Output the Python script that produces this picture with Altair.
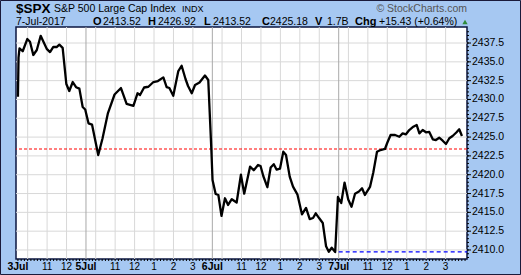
import altair as alt
import pandas as pd

# ---- data (trading-hour index since 3 Jul 09:30, price) ----
hours = [0.0, 0.03, 0.08, 0.245, 0.48, 0.62, 0.79, 0.97, 1.17, 1.30, 1.48, 1.65, 1.82, 1.99, 2.13, 2.30,
         2.49, 2.64, 2.82, 2.99, 3.16, 3.33, 3.46, 3.63, 3.81, 4.13, 4.35, 4.63, 4.97, 5.30, 5.59, 5.94,
         6.15, 6.28, 6.49, 6.71, 6.97, 7.20, 7.48, 7.65, 7.79, 7.99, 8.25, 8.42, 8.62, 8.75, 8.94, 9.11,
         9.34, 9.62, 9.79, 9.95, 10.01, 10.17, 10.31, 10.47, 10.65, 10.81, 11.00, 11.25, 11.47, 11.64,
         11.94, 12.13, 12.35, 12.48, 12.62, 12.83, 13.00, 13.16, 13.31, 13.48, 13.65, 13.79, 13.98, 14.15,
         14.38, 14.61, 14.82, 15.01, 15.18, 15.32, 15.50, 15.68, 15.85, 15.99, 16.14, 16.32, 16.46, 16.63,
         16.80, 16.99, 17.16, 17.34, 17.54, 17.70, 17.85, 18.11, 18.28, 18.47, 18.65, 18.88, 19.00, 19.17,
         19.40, 19.62, 19.79, 19.96, 20.13, 20.34, 20.51, 20.65, 20.82, 20.99, 21.16, 21.34, 21.50, 21.67,
         21.85, 22.02, 22.19, 22.36, 22.55, 22.70, 22.84]
prices = [2430.37, 2435.57, 2436.80, 2436.41, 2438.03, 2437.67, 2435.91, 2436.57, 2438.46, 2437.73,
          2436.73, 2436.30, 2437.00, 2436.97, 2437.29, 2436.86, 2432.05, 2431.12, 2432.32, 2431.63,
          2431.44, 2429.00, 2428.67, 2426.83, 2426.66, 2422.62, 2424.81, 2428.20, 2430.66, 2431.52,
          2429.40, 2429.16, 2430.82, 2430.59, 2431.59, 2431.69, 2432.32, 2432.45, 2432.94, 2431.65,
          2431.52, 2430.49, 2433.78, 2434.48, 2432.72, 2431.79, 2430.82, 2431.92, 2432.25, 2433.18,
          2432.58, 2423.28, 2419.30, 2417.44, 2417.31, 2414.52, 2416.87, 2415.98, 2416.75, 2416.31,
          2420.00, 2417.48, 2421.07, 2420.59, 2421.29, 2421.16, 2419.83, 2418.34, 2420.96, 2421.40,
          2420.67, 2420.80, 2423.06, 2422.62, 2419.74, 2418.41, 2417.35, 2414.74, 2415.58, 2414.10,
          2414.25, 2414.87, 2414.21, 2413.59, 2410.49, 2409.77, 2410.30, 2409.73, 2417.04, 2416.24,
          2418.95, 2416.71, 2415.75, 2417.48, 2417.77, 2418.20, 2417.31, 2418.37, 2420.30, 2423.06,
          2423.28, 2423.42, 2424.25, 2425.28, 2425.28, 2425.05, 2425.50, 2425.37, 2425.94, 2426.38,
          2426.61, 2425.50, 2425.94, 2425.64, 2425.68, 2424.71, 2424.61, 2424.92, 2424.52, 2424.08,
          2424.84, 2425.15, 2425.61, 2426.04, 2425.15]

ref_level = 2423.42      # red dashed level
prev_close = 2409.75     # blue dashed level (previous close)
prev_close_start = 16.5  # 7 Jul open

y_ticks = [2410.0, 2412.5, 2415.0, 2417.5, 2420.0, 2422.5, 2425.0, 2427.5, 2430.0, 2432.5, 2435.0, 2437.5]
hour_grid = [0.5, 1.5, 2.5, 4.0, 5.0, 6.0, 7.0, 8.0, 9.0, 10.5, 11.5, 12.5, 13.5, 14.5, 15.5,
             17.0, 18.0, 19.0, 20.0, 21.0, 22.0]
day_starts = [3.5, 10.0, 16.5]
day_label_pos = [0.0, 3.5, 10.0, 16.5]
day_label_text = ["3Jul", "5Jul", "6Jul", "7Jul"]
hour_label_pos = [1.5, 2.5, 5.0, 6.0, 7.0, 8.0, 9.0, 11.5, 12.5, 13.5, 14.5, 15.5, 18.0, 19.0, 20.0, 21.0, 22.0]
hour_label_text = ["11", "12", "11", "12", "1", "2", "3", "11", "12", "1", "2", "3", "11", "12", "1", "2", "3"]

# header texts
hdr_bold = ["$SPX", "O", "H", "L", "C", "V", "Chg"]
hdr_regular = ["S&P 500 Large Cap Index", "7-Jul-2017", "2413.52", "2426.92", "2413.52", "2425.18",
               "1.7B", "+15.43 (+0.64%)"]
hdr_small = ["INDX"]
credit = ["\u00a9 StockCharts.com"]

FONT = "Liberation Sans"
W, H = 451, 232

# layout (pixel positions relative to plot origin)
bold_x = [0, 77, 132, 188, 246, 299, 339]
bold_y = [-14.5, -2, -2, -2, -2, -2, -2]
bold_size = [13.5, 11, 11, 11, 11, 11, 11]
reg_x = [38, 0, 87, 142, 197, 254, 311, 363]
reg_y = [-15, -2, -2, -2, -2, -2, -2, -2]

# minor tick marks (axis decoration): every 0.5 points on the right, every 10 minutes at the bottom
minor_y = [2409.0 + 0.5 * i for i in range(61)]
minor_x = [i / 6.0 for i in range(139)]

xs = alt.Scale(domain=[-0.1, 23.1], nice=False, zero=False)
ys = alt.Scale(domain=[2408.8, 2439.63], nice=False, zero=False)


def X(f):
    return alt.X(f, scale=xs, axis=None)


def Y(f):
    return alt.Y(f, scale=ys, axis=None)


def PX(f):
    return alt.X(f, scale=None, axis=None)


def PY(f):
    return alt.Y(f, scale=None, axis=None)


GRID = "#d8d8d8"

price_df = pd.DataFrame({"h": hours, "p": prices})

hgrid = alt.Chart(pd.DataFrame({"h": hour_grid})).mark_rule(color=GRID, strokeWidth=1).encode(x=X("h:Q"))
dgrid = alt.Chart(pd.DataFrame({"h": day_starts})).mark_rule(color="#a9a9a9", strokeWidth=1).encode(x=X("h:Q"))
ygrid = alt.Chart(pd.DataFrame({"v": y_ticks})).mark_rule(color=GRID, strokeWidth=1).encode(y=Y("v:Q"))

red = alt.Chart(pd.DataFrame({"v": [ref_level]})).mark_rule(
    color="#ff0000", strokeDash=[3, 2], strokeWidth=1.2).encode(y=Y("v:Q"))
blue = alt.Chart(pd.DataFrame({"v": [prev_close], "a": [prev_close_start], "b": [23.1]})).mark_rule(
    color="#0000ff", strokeDash=[4, 3], strokeWidth=1.2).encode(
    x=X("a:Q"), x2=alt.X2("b"), y=Y("v:Q"))

line = alt.Chart(price_df).mark_line(color="black", strokeWidth=2.3, strokeJoin="round").encode(
    x=X("h:Q"), y=Y("p:Q"))

# right axis: ticks + labels
ytick = alt.Chart(pd.DataFrame({"v": y_ticks, "a": [W] * len(y_ticks), "b": [W + 4] * len(y_ticks)})).mark_rule(
    color="#000000", strokeWidth=1).encode(x=PX("a:Q"), x2=alt.X2("b"), y=Y("v:Q"))
ylab = alt.Chart(pd.DataFrame({"v": y_ticks, "a": [W + 5] * len(y_ticks)})).mark_text(
    font=FONT, fontSize=10.5, align="left", baseline="middle", color="#000000").encode(
    x=PX("a:Q"), y=Y("v:Q"), text=alt.Text("v:Q", format=".1f"))
yminor = alt.Chart(pd.DataFrame({"v": minor_y, "a": [W] * len(minor_y), "b": [W + 2] * len(minor_y)})).mark_rule(
    color="#000000", strokeWidth=1).encode(x=PX("a:Q"), x2=alt.X2("b"), y=Y("v:Q"))
xminor = alt.Chart(pd.DataFrame({"h": minor_x, "a": [H] * len(minor_x), "b": [H + 2] * len(minor_x)})).mark_rule(
    color="#000000", strokeWidth=1).encode(x=X("h:Q"), y=PY("a:Q"), y2=alt.Y2("b"))

day_lbl = alt.Chart(pd.DataFrame({"h": day_label_pos, "t": day_label_text, "yy": [H + 7.5] * 4})).mark_text(
    font=FONT, fontSize=10.5, fontWeight="bold", baseline="middle", align="center", color="#000000").encode(
    x=X("h:Q"), y=PY("yy:Q"), text="t:N")
hour_lbl = alt.Chart(pd.DataFrame({"h": hour_label_pos, "t": hour_label_text,
                                   "yy": [H + 7.5] * len(hour_label_pos)})).mark_text(
    font=FONT, fontSize=10, baseline="middle", align="center", color="#000000").encode(
    x=X("h:Q"), y=PY("yy:Q"), text="t:N")

bold_df = pd.DataFrame({"t": hdr_bold, "px": bold_x, "py": bold_y, "fs": bold_size})
hb = alt.Chart(bold_df).mark_text(font=FONT, fontWeight="bold", align="left", baseline="alphabetic",
                                  color="#000000").encode(
    x=PX("px:Q"), y=PY("py:Q"), text="t:N",
    size=alt.Size("fs:Q", scale=None, legend=None))
reg_df = pd.DataFrame({"t": hdr_regular, "px": reg_x, "py": reg_y})
hr = alt.Chart(reg_df).mark_text(font=FONT, fontSize=10.5, align="left", baseline="alphabetic",
                                 color="#000000").encode(
    x=PX("px:Q"), y=PY("py:Q"), text="t:N")
hs = alt.Chart(pd.DataFrame({"t": hdr_small, "px": [166], "py": [-15]})).mark_text(
    font=FONT, fontSize=9, align="left", baseline="alphabetic", color="#000000").encode(
    x=PX("px:Q"), y=PY("py:Q"), text="t:N")
hc = alt.Chart(pd.DataFrame({"t": credit, "px": [451], "py": [-15]})).mark_text(
    font=FONT, fontSize=10.5, align="right", baseline="alphabetic", color="#555555").encode(
    x=PX("px:Q"), y=PY("py:Q"), text="t:N")

tri = alt.Chart(pd.DataFrame({"px": [449], "py": [-5]})).mark_point(
    shape="triangle-up", filled=True, color="#2e8b3a", size=28, opacity=1).encode(
    x=PX("px:Q"), y=PY("py:Q"))

outer = alt.Chart(pd.DataFrame({"x1": [-15.5], "y1": [-26.5], "x2": [W + 53.5], "y2": [H + 15.5]})).mark_rect(
    fillOpacity=0, stroke="#1a1a3a", strokeWidth=1).encode(
    x=PX("x1:Q"), y=PY("y1:Q"), x2=alt.X2("x2"), y2=alt.Y2("y2"))

chart = alt.layer(hgrid, ygrid, dgrid, red, blue, line, ytick, yminor, xminor, ylab,
                  day_lbl, hour_lbl, hb, hr, hs, hc, tri, outer).properties(
    width=W, height=H,
    padding={"left": 16, "top": 27, "right": 54, "bottom": 16},
    autosize=alt.AutoSizeParams(type="none"),
    background="#a6c8f2",
).configure_view(fill="white", stroke="#0b1640", strokeWidth=1.5)

chart.save("out.html", embed_options={"renderer": "svg", "actions": False})
